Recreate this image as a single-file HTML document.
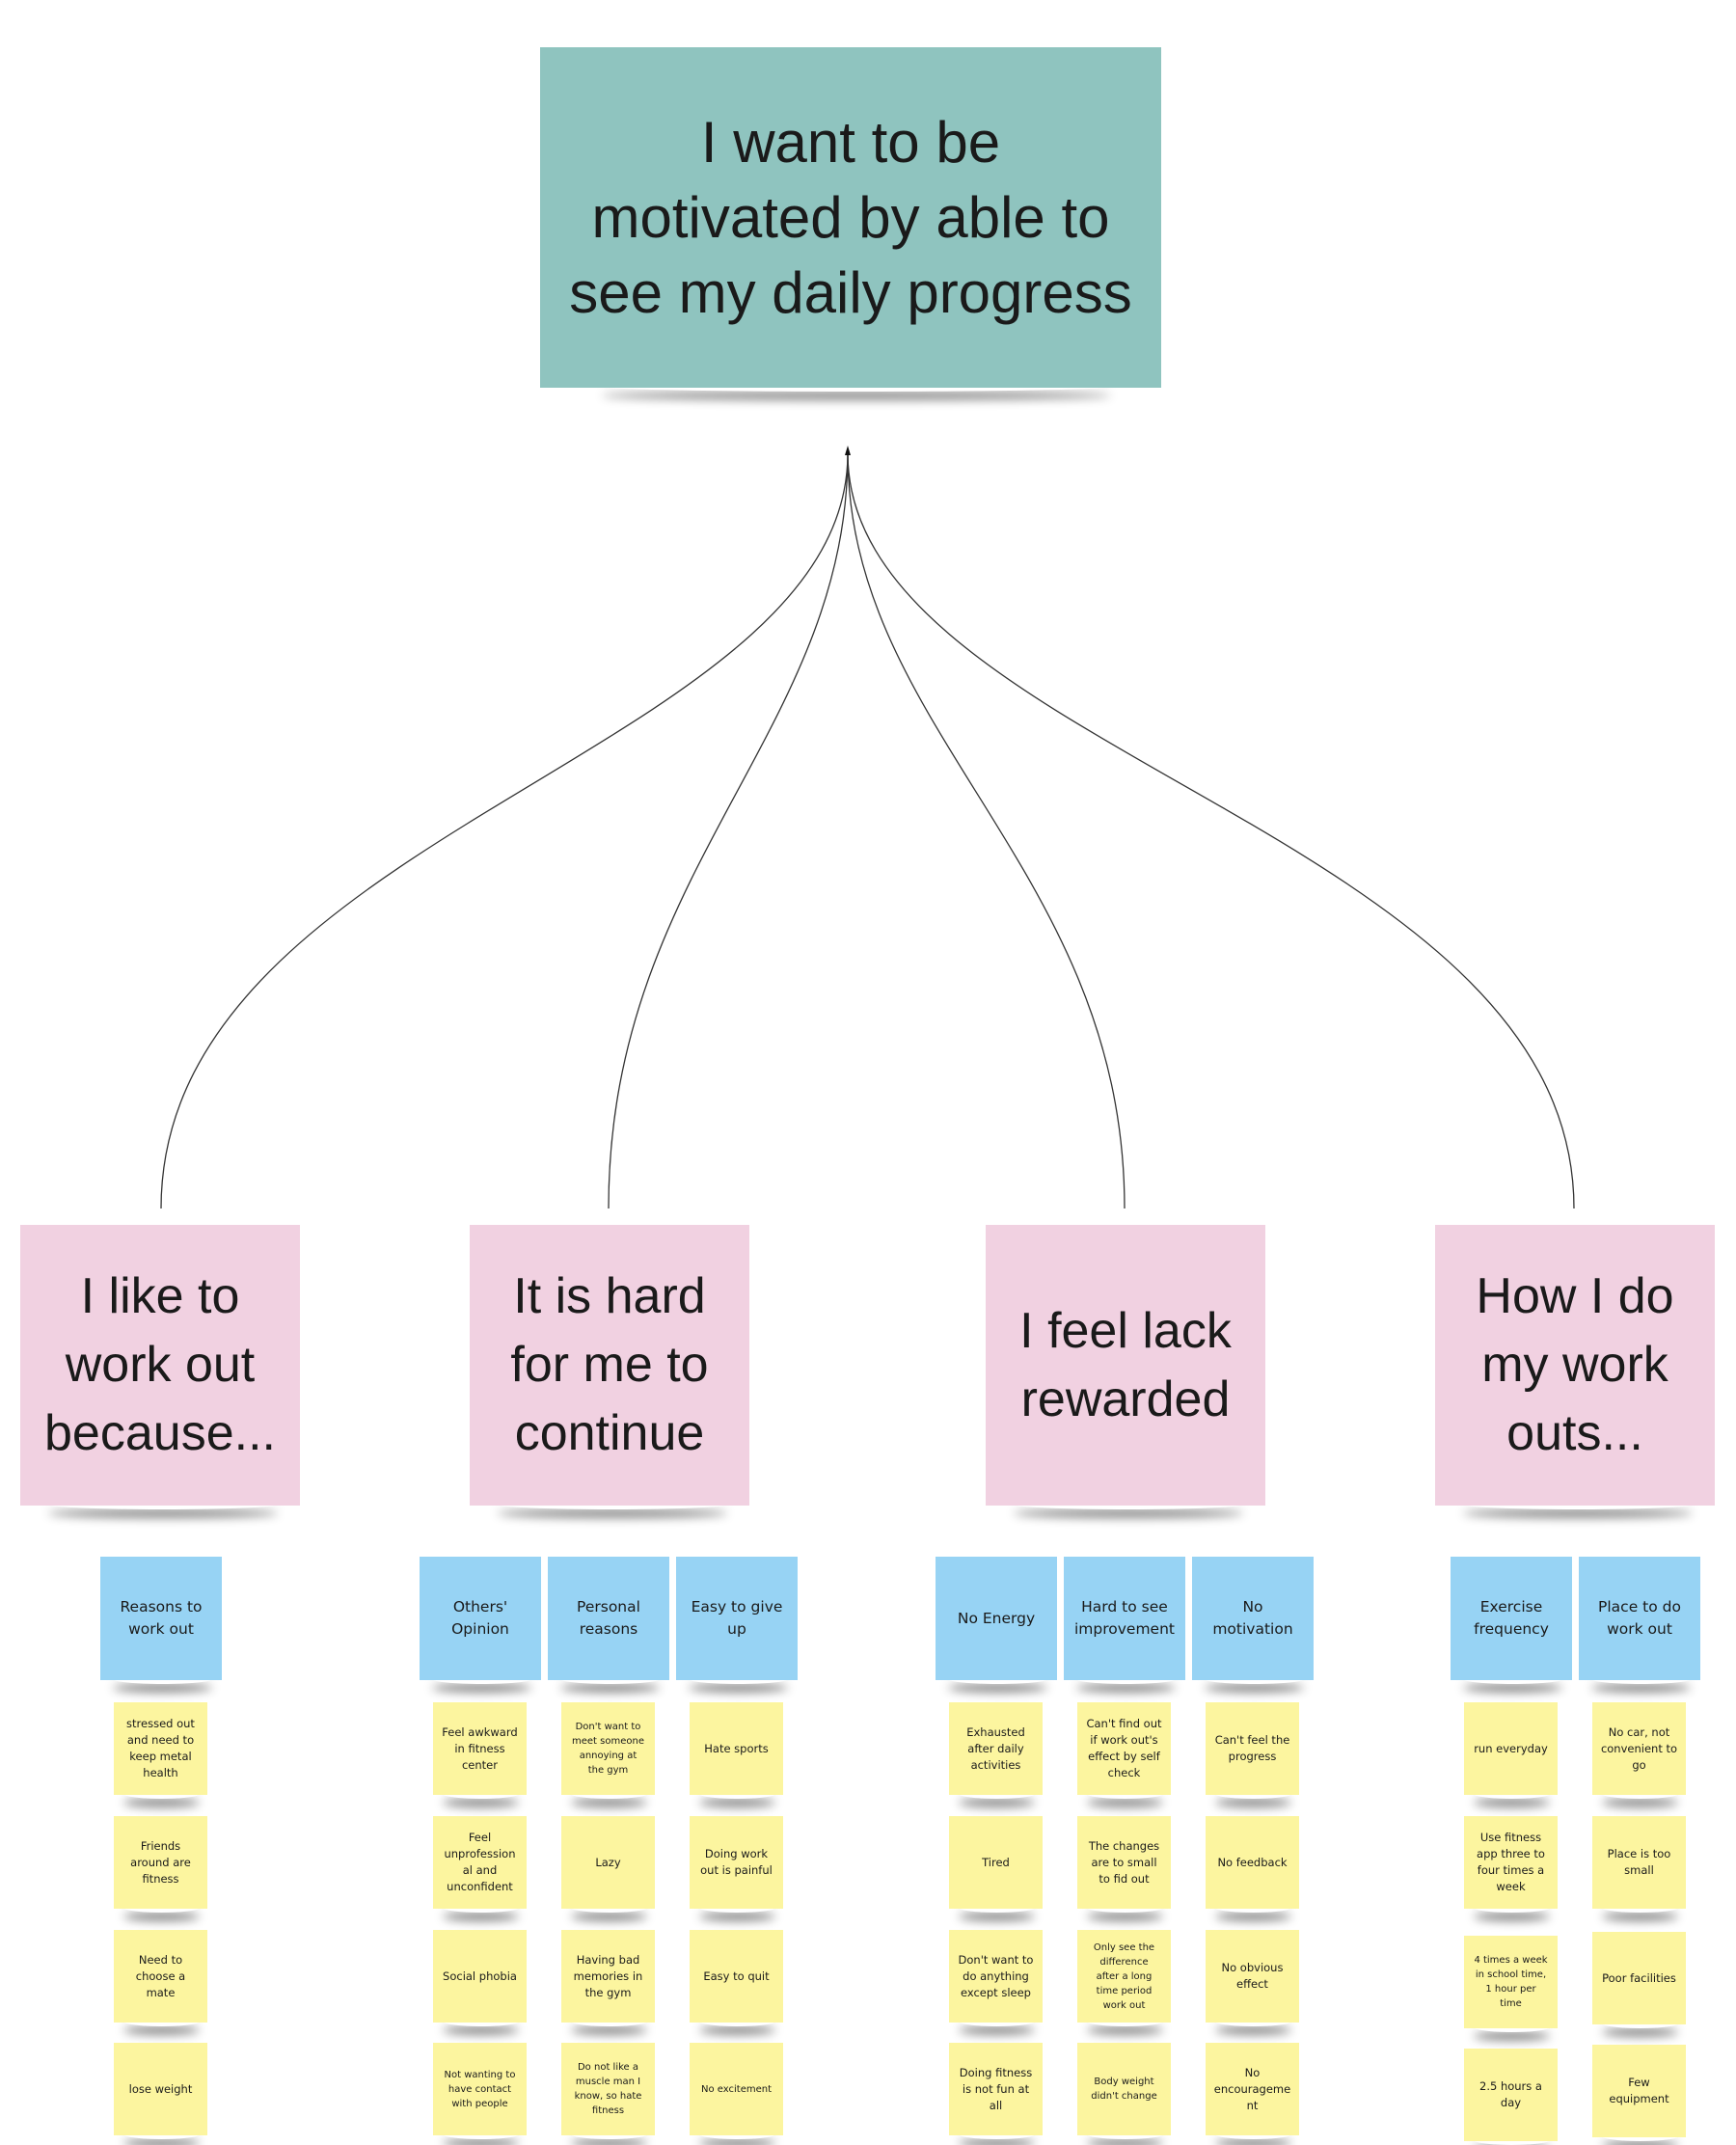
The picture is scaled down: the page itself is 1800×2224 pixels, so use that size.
<!DOCTYPE html>
<html><head><meta charset="utf-8"><style>
body{margin:0;width:1800px;height:2194px;background:#fff;position:relative;overflow:hidden;font-family:"Liberation Sans","DejaVu Sans",sans-serif;color:#1a1a1a}
.n{position:absolute;display:flex;align-items:center;justify-content:center;text-align:center;box-sizing:border-box}
.n::after{content:"";position:absolute;left:10%;right:8%;bottom:-4px;height:10px;z-index:-1;box-shadow:0 9px 10px rgba(0,0,0,.45);border-radius:50%}
.t{background:#8fc4bf;left:560px;top:49px;width:644px;height:353px;font-size:60px;line-height:78px;padding:0 10px}
.p{background:#f1d1e1;top:1270px;width:290px;height:291px;font-size:52px;line-height:71px;padding:0 6px}
.b{background:#97d3f4;top:1614px;width:126px;height:128px;font-size:17px;line-height:23px;padding:0 4px;font-family:"DejaVu Sans",sans-serif;font-size:15.5px}
.y{background:#fcf59f;width:97px;height:96px;font-family:"DejaVu Sans",sans-serif;font-size:11.5px;line-height:17px;padding:0 4px}
.s{font-size:10px;line-height:15px}
</style></head><body>
<svg width="1800" height="2194" style="position:absolute;left:0;top:0" fill="none" stroke="#333" stroke-width="1.3">
<path d="M879,470 C879,780 167,860 167,1253"/>
<path d="M879,470 C879,760 631,900 631,1253"/>
<path d="M879,470 C879,760 1166,900 1166,1253"/>
<path d="M879,470 C879,780 1632,860 1632,1253"/>
<polygon points="879,462 876,472 882,472" fill="#111" stroke="none"/>
</svg>
<div class="n t">I want to be<br>motivated by able to<br>see my daily progress</div>
<div class="n p" style="left:21px">I like to<br>work out<br>because...</div>
<div class="n p" style="left:487px">It is hard<br>for me to<br>continue</div>
<div class="n p" style="left:1022px">I feel lack<br>rewarded</div>
<div class="n p" style="left:1488px">How I do<br>my work<br>outs...</div>

<div class="n b" style="left:104px">Reasons to<br>work out</div>
<div class="n b" style="left:435px">Others'<br>Opinion</div>
<div class="n b" style="left:568px">Personal<br>reasons</div>
<div class="n b" style="left:701px">Easy to give<br>up</div>
<div class="n b" style="left:970px">No Energy</div>
<div class="n b" style="left:1103px">Hard to see<br>improvement</div>
<div class="n b" style="left:1236px">No<br>motivation</div>
<div class="n b" style="left:1504px">Exercise<br>frequency</div>
<div class="n b" style="left:1637px">Place to do<br>work out</div>

<div class="n y" style="left:118px;top:1765px">stressed out<br>and need to<br>keep metal<br>health</div>
<div class="n y" style="left:118px;top:1883px">Friends<br>around are<br>fitness</div>
<div class="n y" style="left:118px;top:2001px">Need to<br>choose a<br>mate</div>
<div class="n y" style="left:118px;top:2118px">lose weight</div>

<div class="n y" style="left:449px;top:1765px">Feel awkward<br>in fitness<br>center</div>
<div class="n y" style="left:449px;top:1883px">Feel<br>unprofession<br>al and<br>unconfident</div>
<div class="n y" style="left:449px;top:2001px">Social phobia</div>
<div class="n y s" style="left:449px;top:2118px">Not wanting to<br>have contact<br>with people</div>

<div class="n y s" style="left:582px;top:1765px">Don't want to<br>meet someone<br>annoying at<br>the gym</div>
<div class="n y" style="left:582px;top:1883px">Lazy</div>
<div class="n y" style="left:582px;top:2001px">Having bad<br>memories in<br>the gym</div>
<div class="n y s" style="left:582px;top:2118px">Do not like a<br>muscle man I<br>know, so hate<br>fitness</div>

<div class="n y" style="left:715px;top:1765px">Hate sports</div>
<div class="n y" style="left:715px;top:1883px">Doing work<br>out is painful</div>
<div class="n y" style="left:715px;top:2001px">Easy to quit</div>
<div class="n y s" style="left:715px;top:2118px">No excitement</div>

<div class="n y" style="left:984px;top:1765px">Exhausted<br>after daily<br>activities</div>
<div class="n y" style="left:984px;top:1883px">Tired</div>
<div class="n y" style="left:984px;top:2001px">Don't want to<br>do anything<br>except sleep</div>
<div class="n y" style="left:984px;top:2118px">Doing fitness<br>is not fun at<br>all</div>

<div class="n y" style="left:1117px;top:1765px">Can't find out<br>if work out's<br>effect by self<br>check</div>
<div class="n y" style="left:1117px;top:1883px">The changes<br>are to small<br>to fid out</div>
<div class="n y s" style="left:1117px;top:2001px">Only see the<br>difference<br>after a long<br>time period<br>work out</div>
<div class="n y s" style="left:1117px;top:2118px">Body weight<br>didn't change</div>

<div class="n y" style="left:1250px;top:1765px">Can't feel the<br>progress</div>
<div class="n y" style="left:1250px;top:1883px">No feedback</div>
<div class="n y" style="left:1250px;top:2001px">No obvious<br>effect</div>
<div class="n y" style="left:1250px;top:2118px">No<br>encourageme<br>nt</div>

<div class="n y" style="left:1518px;top:1765px">run everyday</div>
<div class="n y" style="left:1518px;top:1883px">Use fitness<br>app three to<br>four times a<br>week</div>
<div class="n y s" style="left:1518px;top:2007px">4 times a week<br>in school time,<br>1 hour per<br>time</div>
<div class="n y" style="left:1518px;top:2124px">2.5 hours a<br>day</div>

<div class="n y" style="left:1651px;top:1765px">No car, not<br>convenient to<br>go</div>
<div class="n y" style="left:1651px;top:1883px">Place is too<br>small</div>
<div class="n y" style="left:1651px;top:2003px">Poor facilities</div>
<div class="n y" style="left:1651px;top:2120px">Few<br>equipment</div>
</body></html>
